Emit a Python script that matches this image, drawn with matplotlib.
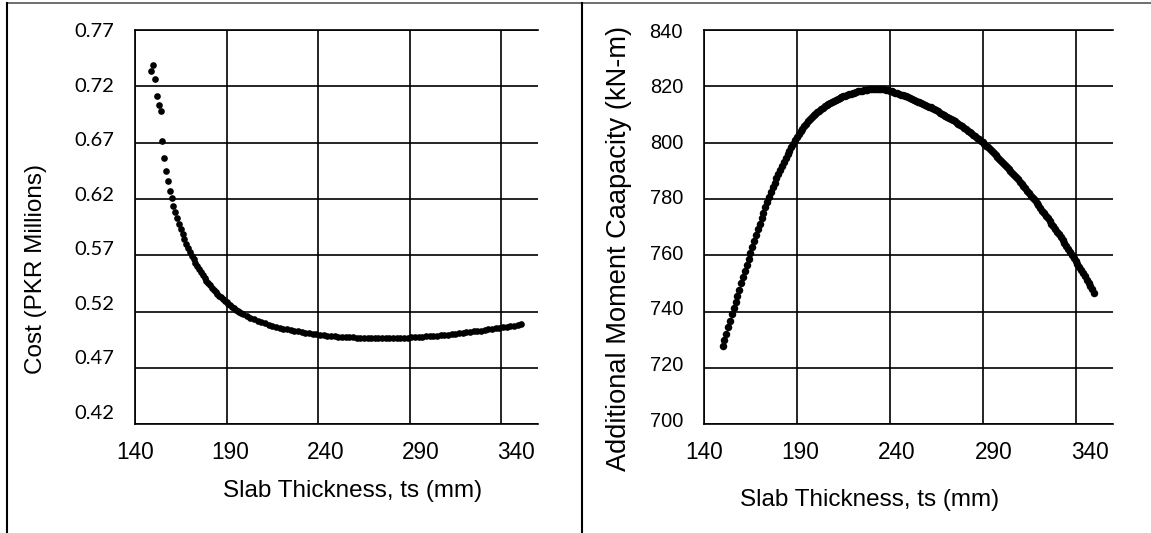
import matplotlib.pyplot as plt
from matplotlib.lines import Line2D

# left chart: slab thickness vs cost
cost_ts = list(range(149, 200)) + list(range(201, 352, 2))
cost = [0.7339, 0.7389, 0.7265, 0.7114, 0.7034, 0.6981, 0.6715, 0.6561, 0.6448, 0.6357,
        0.6273, 0.6206, 0.6141, 0.6082, 0.6029, 0.5978, 0.5930, 0.5885, 0.5843, 0.5803,
        0.5765, 0.5729, 0.5695, 0.5663, 0.5632, 0.5603, 0.5575, 0.5548, 0.5523, 0.5499,
        0.5476, 0.5454, 0.5433, 0.5413, 0.5394, 0.5376, 0.5359, 0.5342, 0.5326, 0.5311,
        0.5296, 0.5282, 0.5268, 0.5255, 0.5242, 0.5230, 0.5218, 0.5207, 0.5196, 0.5185, 0.5175,
        # 201 .. 351 every 2 mm
        0.5160, 0.5145, 0.5131, 0.5118, 0.5106, 0.5095, 0.5085, 0.5075, 0.5066, 0.5058,
        0.5050, 0.5043, 0.5036, 0.5030, 0.5024, 0.5018, 0.5013, 0.5008, 0.5003, 0.4999,
        0.4995, 0.4991, 0.4988, 0.4985, 0.4982, 0.4979, 0.4977, 0.4975, 0.4973, 0.4971,
        0.4969, 0.4968, 0.4967, 0.4966, 0.4965, 0.4964, 0.4964, 0.4964, 0.4964, 0.4964,
        0.4965, 0.4966, 0.4967, 0.4968, 0.4970, 0.4972, 0.4974, 0.4976, 0.4978, 0.4980,
        0.4982, 0.4985, 0.4988, 0.4991, 0.4994, 0.4997, 0.5000, 0.5004, 0.5008, 0.5012,
        0.5016, 0.5020, 0.5024, 0.5028, 0.5032, 0.5037, 0.5042, 0.5047, 0.5052, 0.5057,
        0.5062, 0.5067, 0.5072, 0.5077, 0.5082, 0.5087]

# right chart: slab thickness vs additional moment capacity
moment_ts = list(range(150, 351))
moment = [727.7, 730.0, 732.2, 734.4, 736.7, 739.0, 741.2, 743.4, 745.6, 747.8,
          750.0, 752.2, 754.4, 756.6, 758.8, 761.0, 763.1, 765.2, 767.3, 769.3,
          771.3, 773.3, 775.2, 777.1, 778.9, 780.7, 782.4, 784.1, 785.7, 787.3,
          788.8, 790.3, 791.8, 793.2, 794.6, 795.9, 797.2, 798.5, 799.7, 800.9,
          802.0, 803.1, 804.1, 805.0, 805.9, 806.8, 807.6, 808.3, 809.0, 809.7,
          810.3, 810.9, 811.4, 811.9, 812.4, 812.9, 813.3, 813.7, 814.1, 814.5,
          814.9, 815.2, 815.5, 815.8, 816.1, 816.4, 816.7, 816.9, 817.2, 817.4,
          817.6, 817.8, 818.0, 818.2, 818.3, 818.5, 818.6, 818.7, 818.8, 818.9,
          819.0, 819.0, 819.1, 819.1, 819.1, 819.1, 819.0, 818.9, 818.8, 818.6,
          818.4, 818.2, 818.0, 817.8, 817.6, 817.4, 817.1, 816.9, 816.6, 816.4,
          816.1, 815.8, 815.5, 815.2, 814.9, 814.6, 814.3, 814.0, 813.7, 813.4,
          813.1, 812.8, 812.5, 812.2, 811.8, 811.5, 811.1, 810.7, 810.3, 809.9,
          809.6, 809.2, 808.8, 808.4, 808.0, 807.6, 807.1, 806.7, 806.2, 805.8,
          805.3, 804.8, 804.3, 803.8, 803.3, 802.8, 802.3, 801.7, 801.2, 800.7,
          800.1, 799.5, 798.9, 798.3, 797.6, 797.0, 796.3, 795.7, 795.0, 794.3,
          793.6, 792.9, 792.2, 791.5, 790.8, 790.1, 789.3, 788.6, 787.8, 787.0,
          786.2, 785.4, 784.6, 783.8, 782.9, 782.1, 781.2, 780.4, 779.5, 778.6,
          777.7, 776.8, 775.9, 775.0, 774.1, 773.2, 772.2, 771.3, 770.3, 769.4,
          768.4, 767.4, 766.4, 765.4, 764.4, 763.4, 762.3, 761.3, 760.2, 759.2,
          758.1, 757.0, 755.9, 754.8, 753.7, 752.6, 751.4, 750.3, 749.1, 747.9, 746.8]

x_ticks = [140, 190, 240, 290, 340]
cost_ticks = [0.42, 0.47, 0.52, 0.57, 0.62, 0.67, 0.72, 0.77]
moment_ticks = [700, 720, 740, 760, 780, 800, 820, 840]

plt.rcParams['font.family'] = 'Liberation Sans'

fig = plt.figure(figsize=(11.51, 5.33), dpi=100)
ax1 = fig.add_axes([0.1173, 0.2039, 0.3499, 0.7398])
ax2 = fig.add_axes([0.6116, 0.2039, 0.3551, 0.7398])


def setup(ax, yticks, ylabels, ystretch, yfont, ysize):
    ax.set_xlim(140, 360)
    ax.set_ylim(yticks[0], yticks[-1])
    ax.xaxis.remove_overlapping_locs = False
    ax.yaxis.remove_overlapping_locs = False
    # grid on major ticks, labels on minor ticks (labels sit slightly off the grid in the original)
    ax.set_xticks(x_ticks)
    ax.set_xticklabels([])
    ax.set_yticks(yticks)
    ax.set_yticklabels([])
    ax.grid(True, color='black', lw=1.2)
    xl = [140 + (t - 140) * 1.04 for t in x_ticks]
    ax.set_xticks(xl, minor=True)
    ax.set_xticklabels([str(t) for t in x_ticks], minor=True, fontsize=16.3)
    top = yticks[-1]
    yl = [top - (top - t) * ystretch for t in yticks]
    ax.set_yticks(yl, minor=True)
    ax.set_yticklabels(ylabels, minor=True, fontsize=ysize, family=yfont)
    ax.tick_params(which='both', length=0)
    ax.tick_params(axis='x', which='minor', pad=12)
    ax.tick_params(axis='y', which='minor', pad=15)
    ax.spines['right'].set_visible(False)
    for s in ['left', 'bottom', 'top']:
        ax.spines[s].set_linewidth(1.2)
        ax.spines[s].set_color('black')


setup(ax1, cost_ticks, ['%.2f' % t for t in cost_ticks], 0.968, 'Lato', 14.5)
setup(ax2, moment_ticks, [str(t) for t in moment_ticks], 0.987, 'Liberation Sans', 14.4)

ax1.plot(cost_ts, cost, 'o', color='black', ms=4.8, mew=0)
ax2.plot(moment_ts, moment, 'o', color='black', ms=5.4, mew=0)

ax1.set_xlabel('Slab Thickness, ts (mm)', fontsize=17.5, va='center')
ax1.xaxis.set_label_coords(0.540, -0.168)
ax1.set_ylabel('Cost (PKR Millions)', fontsize=17.5, va='center')
ax1.yaxis.set_label_coords(-0.246, 0.395)

ax2.set_xlabel('Slab Thickness, ts (mm)', fontsize=17.5, va='center')
ax2.xaxis.set_label_coords(0.406, -0.191)
ax2.set_ylabel('Additional Moment Caapacity (kN-m)', fontsize=19.6, va='center')
ax2.yaxis.set_label_coords(-0.209, 0.446)

# outer frame lines of the pasted figure
fig.add_artist(Line2D([0.0058, 1], [1 - 3.3 / 533] * 2, color='#555555', lw=1.2, transform=fig.transFigure))
fig.add_artist(Line2D([0.0058, 0.0058], [0, 1 - 3.3 / 533], color='black', lw=1.5, transform=fig.transFigure))
fig.add_artist(Line2D([0.5054, 0.5054], [0, 1 - 3.3 / 533], color='black', lw=1.5, transform=fig.transFigure))

fig.savefig('out.png', dpi=100)
